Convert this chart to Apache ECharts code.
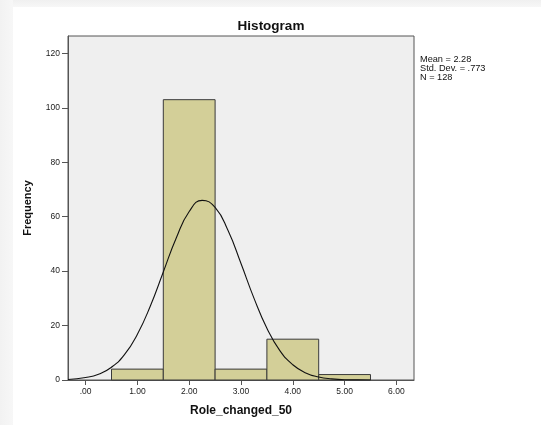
<!DOCTYPE html>
<html><head><meta charset="utf-8">
<script src="https://cdn.jsdelivr.net/npm/echarts@6/dist/echarts.min.js"></script>
<style>html,body{margin:0;padding:0;background:#fff}#c{width:541px;height:425px}</style>
</head><body><div id="c"></div>
<script>
// Data
var binCenters = [1, 2, 3, 4, 5];
var binCounts = [4, 103, 4, 15, 2];
var binWidth = 1;
var curveX = [-0.34, 0, 0.25, 0.5, 0.75, 1, 1.25, 1.5, 1.75, 2, 2.25, 2.5, 2.75, 3, 3.25, 3.5, 3.75, 4, 4.25, 4.5, 4.75, 5, 5.25, 5.5];
var curveY = [0.2, 0.9, 2.1, 4.7, 9.3, 16.8, 27.2, 39.7, 52.2, 61.9, 66.0, 63.4, 54.9, 42.8, 30.1, 19.0, 10.8, 5.6, 2.6, 1.1, 0.4, 0.1, 0.05, 0.0];
var xTicks = [0, 1, 2, 3, 4, 5, 6];
var xTickLabels = ['.00', '1.00', '2.00', '3.00', '4.00', '5.00', '6.00'];
var yTicks = [0, 20, 40, 60, 80, 100, 120];
var statsLines = ['Mean = 2.28', 'Std. Dev. = .773', 'N = 128'];

var FONT = '"Liberation Sans", Arial, sans-serif';
var chart = echarts.init(document.getElementById('c'), null, {renderer: 'canvas'});
var barData = binCenters.map(function (c, i) { return [c - binWidth / 2, c + binWidth / 2, binCounts[i]]; });
var curveData = curveX.map(function (x, i) { return [x, curveY[i]]; });

chart.setOption({
  animation: false,
  backgroundColor: '#ffffff',
  graphic: [
    {type: 'rect', left: 0, top: 0, shape: {width: 541, height: 7}, silent: true,
      style: {fill: new echarts.graphic.LinearGradient(0, 0, 0, 1, [{offset: 0, color: '#f0f0f0'}, {offset: 1, color: '#f7f7f7'}])}},
    {type: 'rect', left: 0, top: 0, shape: {width: 13, height: 425}, silent: true,
      style: {fill: new echarts.graphic.LinearGradient(0, 0, 1, 0, [{offset: 0, color: '#f2f2f2'}, {offset: 1, color: '#f7f7f7'}])}},
    {type: 'text', x: 271, y: 19.5, silent: true,
      style: {text: 'Histogram', font: 'bold 13.5px ' + FONT, fill: '#111', align: 'center', verticalAlign: 'top'}},
    {type: 'text', x: 420, y: 55, silent: true,
      style: {text: statsLines.join('\n'), font: '9.2px ' + FONT, lineHeight: 8.8, fill: '#111'}}
  ],
  grid: {left: 68, right: 127, top: 36, bottom: 45, show: true, backgroundColor: '#efefef', borderColor: '#555', borderWidth: 1},
  xAxis: {
    type: 'value', min: -0.34, max: 6.34,
    name: 'Role_changed_50', nameLocation: 'middle', nameGap: 25,
    nameTextStyle: {fontFamily: FONT, fontSize: 12, fontWeight: 'bold', color: '#111'},
    axisLine: {show: true, onZero: false, lineStyle: {color: '#555', width: 1}},
    axisTick: {show: true, length: 5, customValues: xTicks, lineStyle: {color: '#555'}},
    axisLabel: {customValues: xTicks, margin: 7, fontFamily: FONT, fontSize: 8.5, color: '#222',
      formatter: function (v) { var i = xTicks.indexOf(Math.round(v)); return i >= 0 ? xTickLabels[i] : ''; }},
    splitLine: {show: false}
  },
  yAxis: {
    type: 'value', min: 0, max: 126.4,
    name: 'Frequency', nameLocation: 'middle', nameGap: 35, nameRotate: 90,
    nameTextStyle: {fontFamily: FONT, fontSize: 11, fontWeight: 'bold', color: '#111'},
    axisLine: {show: true, onZero: false, lineStyle: {color: '#555', width: 1}},
    axisTick: {show: true, length: 6, customValues: yTicks, lineStyle: {color: '#555'}},
    axisLabel: {customValues: yTicks, margin: 8, fontFamily: FONT, fontSize: 8.5, color: '#222'},
    splitLine: {show: false}
  },
  series: [
    {
      type: 'custom', data: barData, encode: {x: [0, 1], y: 2},
      renderItem: function (params, api) {
        var p0 = api.coord([api.value(0), api.value(2)]);
        var p1 = api.coord([api.value(1), 0]);
        return {type: 'rect', shape: {x: p0[0], y: p0[1], width: p1[0] - p0[0], height: p1[1] - p0[1]},
          style: {fill: '#d3cf98', stroke: '#3a3a3a', lineWidth: 1}};
      }
    },
    {
      type: 'line', data: curveData, smooth: 0.5, showSymbol: false, symbol: 'none',
      lineStyle: {color: '#111', width: 1.1}, z: 5
    }
  ]
});
</script></body></html>
